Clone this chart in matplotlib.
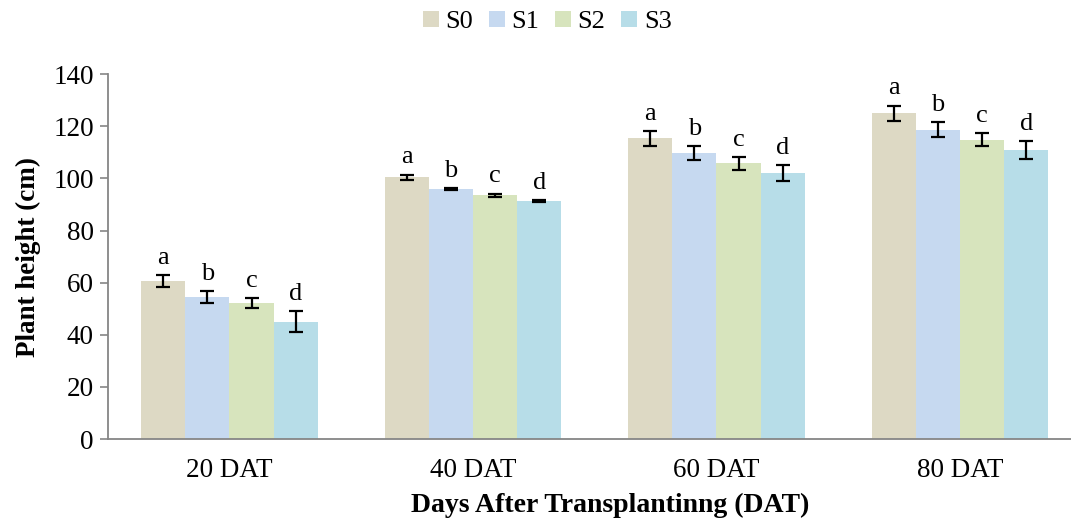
import numpy as np
import matplotlib
matplotlib.use("Agg")
import matplotlib.pyplot as plt

plt.rcParams['font.family'] = ['Liberation Serif', 'DejaVu Serif']

categories = ["20 DAT", "40 DAT", "60 DAT", "80 DAT"]
series = ["S0", "S1", "S2", "S3"]
s0 = [60.8, 100.4, 115.4, 125.1]
s1 = [54.6, 96.0, 109.7, 118.7]
s2 = [52.3, 93.6, 105.8, 114.9]
s3 = [45.1, 91.2, 102.2, 111.0]
s0_err = [2.3, 1.1, 2.9, 2.9]
s1_err = [2.3, 0.3, 2.6, 2.8]
s2_err = [1.9, 0.6, 2.4, 2.4]
s3_err = [4.0, 0.4, 3.1, 3.4]
letters = ["a", "b", "c", "d"]
colors = ["#DDD9C4", "#C6D9F0", "#D7E4BD", "#B7DDE8"]

values = [s0, s1, s2, s3]
errors = [s0_err, s1_err, s2_err, s3_err]

fig = plt.figure(figsize=(10.71, 5.22), dpi=100)
ax = fig.add_axes([0.1006, 0.159, 0.8994, 0.6987])

x = np.arange(len(categories))
w = 0.1814
for i in range(4):
    pos = x + (i - 1.5) * w
    ax.bar(pos, values[i], w, color=colors[i], label=series[i])
    ax.errorbar(pos, values[i], yerr=errors[i], fmt='none', ecolor='black',
                elinewidth=1.6, capsize=4.8, capthick=1.6)
    for p, v, e in zip(pos, values[i], errors[i]):
        ax.annotate(letters[i], (p, v + e), xytext=(0, 8), textcoords='offset points',
                    ha='center', va='baseline', fontsize=19)

ax.set_ylim(0, 140)
ax.set_yticks(range(0, 141, 20))
ax.set_xlim(-0.5, 3.456)
ax.set_xticks(x)
ax.set_xticklabels(categories)
ax.tick_params(axis='y', labelsize=19.5, length=6, color='#868686', width=1.2, pad=4)
ax.tick_params(axis='x', labelsize=19.5, length=0, pad=14)
for s in ['top', 'right']:
    ax.spines[s].set_visible(False)
for s in ['left', 'bottom']:
    ax.spines[s].set_color('#868686')
    ax.spines[s].set_linewidth(1.3)

ax.set_ylabel("Plant height (cm)", fontsize=19.5, fontweight='bold', labelpad=9)
ax.set_xlabel("Days After Transplantinng (DAT)", fontsize=20, fontweight='bold')
ax.xaxis.set_label_coords(0.522, -0.148)

fig.legend(loc='upper center', bbox_to_anchor=(0.511, 1.025), ncol=4, frameon=False,
           fontsize=19, handlelength=0.6, handleheight=0.6, handletextpad=0.25,
           columnspacing=0.6)

fig.savefig("out.png", dpi=100)
